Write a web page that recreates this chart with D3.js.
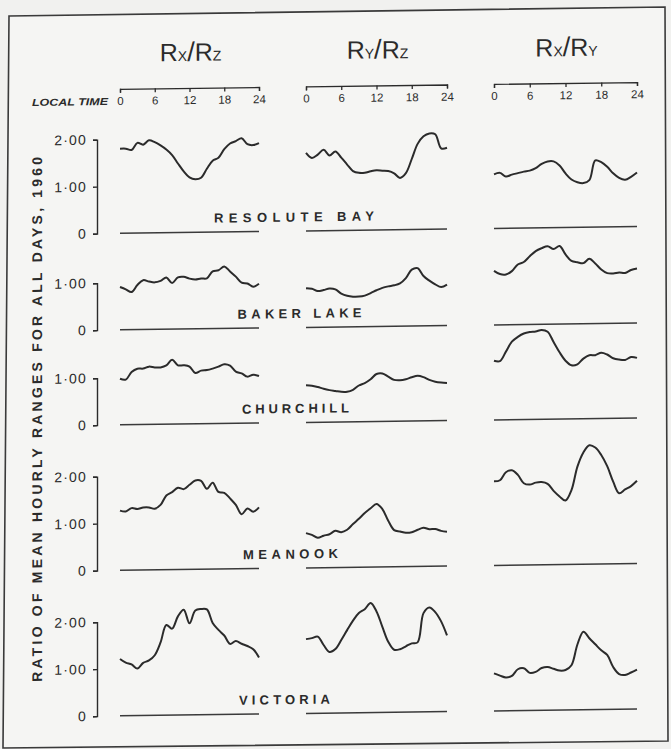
<!DOCTYPE html>
<html>
<head>
<meta charset="utf-8">
<script src="https://cdn.jsdelivr.net/npm/d3@7"></script>
<style>
body { margin: 0; background: #f1f1ef; }
svg { display: block; }
</style>
</head>
<body>
<script>
// hourly ratios, local time 0..24
var hours = d3.range(0, 25);
var timeTicks = [0, 6, 12, 18, 24];
var ratioTitles = [["X", "Z"], ["Y", "Z"], ["X", "Y"]];
var stations = ["RESOLUTE BAY", "BAKER LAKE", "CHURCHILL", "MEANOOK", "VICTORIA"];
var axisMax = [2, 1, 1, 2, 2];

var resoluteRxRz = [1.80,1.80,1.77,1.92,1.88,1.97,1.93,1.86,1.77,1.65,1.47,1.30,1.17,1.13,1.16,1.35,1.52,1.58,1.76,1.88,1.93,1.99,1.86,1.84,1.88];
var resoluteRyRz = [1.66,1.55,1.62,1.72,1.60,1.68,1.55,1.40,1.26,1.22,1.22,1.25,1.27,1.26,1.25,1.20,1.10,1.20,1.50,1.82,1.98,2.04,2.02,1.72,1.73];
var resoluteRxRy = [1.15,1.18,1.10,1.14,1.17,1.20,1.22,1.27,1.36,1.41,1.41,1.32,1.15,1.02,0.96,0.94,1.00,1.42,1.38,1.28,1.14,1.04,1.00,1.06,1.15];

var bakerRxRz = [0.91,0.86,0.80,0.95,1.05,1.02,1.00,1.03,1.10,0.98,1.10,1.11,1.07,1.05,1.07,1.07,1.22,1.24,1.32,1.21,1.10,0.97,0.95,0.88,0.94];
var bakerRyRz = [0.83,0.82,0.77,0.79,0.82,0.80,0.71,0.66,0.64,0.64,0.66,0.71,0.77,0.82,0.85,0.87,0.91,1.02,1.20,1.23,1.06,0.96,0.88,0.82,0.87];
var bakerRxRy = [1.15,1.08,1.07,1.14,1.28,1.33,1.45,1.56,1.62,1.66,1.60,1.66,1.48,1.34,1.31,1.29,1.38,1.28,1.15,1.07,1.06,1.08,1.07,1.13,1.16];

var churchillRxRz = [0.98,0.96,1.12,1.19,1.19,1.23,1.21,1.21,1.25,1.37,1.25,1.25,1.22,1.08,1.13,1.14,1.17,1.21,1.26,1.23,1.10,1.06,0.99,1.03,1.00];
var churchillRyRz = [0.79,0.78,0.75,0.71,0.68,0.66,0.64,0.64,0.68,0.77,0.82,0.90,1.01,1.02,0.95,0.88,0.87,0.89,0.93,0.96,0.93,0.87,0.83,0.81,0.80];
var churchillRxRy = [1.26,1.25,1.45,1.66,1.76,1.83,1.86,1.87,1.90,1.86,1.64,1.42,1.24,1.14,1.16,1.28,1.35,1.35,1.40,1.36,1.28,1.25,1.24,1.30,1.28];

var meanookRxRz = [1.27,1.25,1.32,1.30,1.33,1.33,1.30,1.38,1.58,1.65,1.74,1.71,1.80,1.89,1.88,1.71,1.84,1.64,1.62,1.50,1.36,1.16,1.28,1.21,1.30];
var meanookRyRz = [0.74,0.70,0.64,0.68,0.71,0.78,0.75,0.80,0.92,1.03,1.15,1.25,1.34,1.23,0.98,0.78,0.75,0.72,0.73,0.78,0.82,0.79,0.79,0.75,0.73];
var meanookRxRy = [1.79,1.81,1.98,2.02,1.92,1.74,1.71,1.75,1.76,1.72,1.57,1.45,1.36,1.58,2.08,2.38,2.53,2.48,2.32,2.08,1.75,1.50,1.58,1.65,1.76];

var victoriaRxRz = [1.21,1.13,1.09,1.00,1.12,1.17,1.28,1.55,1.92,1.84,2.10,2.24,1.95,2.22,2.25,2.24,1.95,1.80,1.68,1.50,1.56,1.50,1.45,1.38,1.20];
var victoriaRyRz = [1.58,1.60,1.63,1.45,1.30,1.36,1.55,1.76,1.96,2.12,2.20,2.33,2.15,1.82,1.50,1.33,1.34,1.40,1.46,1.48,2.10,2.22,2.12,1.92,1.62];
var victoriaRxRy = [0.80,0.75,0.71,0.74,0.88,0.90,0.80,0.82,0.90,0.92,0.88,0.84,0.85,0.95,1.39,1.66,1.52,1.39,1.26,1.16,0.90,0.75,0.73,0.78,0.84];

var series = [
    [resoluteRxRz, resoluteRyRz, resoluteRxRy],
    [bakerRxRz, bakerRyRz, bakerRxRy],
    [churchillRxRz, churchillRyRz, churchillRxRy],
    [meanookRxRz, meanookRyRz, meanookRxRy],
    [victoriaRxRz, victoriaRyRz, victoriaRxRy]
];

// layout (pixels)
var width = 671, height = 749,
    colRange = [[120, 259], [306, 447], [494, 637]],
    rowZero = [230.5, 327, 422, 567.5, 713],
    unit = 47,
    timeAxisY = 86,
    yAxisX = 97,
    labelX = [214, 237.5, 242, 243, 239],
    labelW = [160, 124, 107, 95, 91],
    skew = 0.0131,
    ink = "#2b2b2b",
    font = "'Liberation Sans', Arial, sans-serif";

var svg = d3.select("body").append("svg")
    .attr("width", width)
    .attr("height", height);

// paper frame (scan is a bit off square)
svg.append("path")
    .attr("d", "M9,16L665,7L668,741L3,748Z")
    .attr("fill", "#f5f5f3")
    .attr("stroke", "#3a3a3a")
    .attr("stroke-width", 1.6);

var g = svg.append("g")
    .attr("transform", "matrix(1," + (-skew) + ",0,1,0," + (skew * width / 2) + ")");

var xScales = colRange.map(function(r) {
    return d3.scaleLinear().domain([0, 24]).range(r);
});

// column titles R_x / R_z etc.
ratioTitles.forEach(function(t, c) {
    var cx = (colRange[c][0] + colRange[c][1]) / 2 + 1;
    var txt = g.append("text")
        .attr("x", cx)
        .attr("y", 59)
        .attr("text-anchor", "middle")
        .attr("font-family", font)
        .attr("font-size", 25)
        .attr("fill", ink);
    txt.append("tspan").text("R");
    txt.append("tspan").attr("font-size", 14).text(t[0]);
    txt.append("tspan").attr("font-size", 27).text("/");
    txt.append("tspan").text("R");
    txt.append("tspan").attr("font-size", 14).text(t[1]);
});

// local time axes
xScales.forEach(function(x) {
    var ax = g.append("g")
        .attr("transform", "translate(0," + timeAxisY + ")")
        .call(d3.axisBottom(x).tickValues(timeTicks).tickSize(4).tickSizeOuter(4));
    ax.select(".domain").attr("stroke", ink).attr("stroke-width", 1.3);
    ax.selectAll(".tick line").attr("stroke", ink).attr("stroke-width", 1.3);
    ax.selectAll(".tick text")
        .attr("y", 8)
        .attr("fill", ink)
        .attr("font-family", "'Liberation Sans Narrow', " + font)
        .attr("font-size", 11.5);
});

g.append("text")
    .attr("x", 32)
    .attr("y", 102)
    .attr("textLength", 76)
    .attr("lengthAdjust", "spacingAndGlyphs")
    .attr("font-family", font)
    .attr("font-style", "italic")
    .attr("font-weight", "bold")
    .attr("font-size", 10)
    .attr("fill", ink)
    .text("LOCAL TIME");

var line = d3.line().curve(d3.curveCatmullRom.alpha(0.5));

stations.forEach(function(name, r) {
    var y = d3.scaleLinear().domain([0, axisMax[r]])
        .range([rowZero[r], rowZero[r] - unit * axisMax[r]]);

    var ay = g.append("g")
        .attr("transform", "translate(" + yAxisX + ",0)")
        .call(d3.axisLeft(y).tickValues(d3.range(0, axisMax[r] + 1))
            .tickSize(4).tickSizeOuter(4)
            .tickFormat(function(d) { return d === 0 ? "0" : d + "\u00b700"; }));
    ay.select(".domain").attr("stroke", ink).attr("stroke-width", 1.4);
    ay.selectAll(".tick line").attr("stroke", ink).attr("stroke-width", 1.4);
    ay.selectAll(".tick text")
        .attr("x", -10)
        .attr("fill", ink)
        .attr("font-family", font)
        .attr("font-size", 14)
        .attr("letter-spacing", 1.2);

    // zero lines
    g.append("g").selectAll("line")
        .data(xScales)
        .enter()
        .append("line")
        .attr("x1", function(x) { return x(0); })
        .attr("x2", function(x) { return x(24); })
        .attr("y1", y(0))
        .attr("y2", y(0))
        .attr("stroke", "#3a3a3a")
        .attr("stroke-width", 1.5);

    // ratio curves
    g.append("g").selectAll("path")
        .data(series[r])
        .enter()
        .append("path")
        .attr("d", function(vals, c) {
            return line(vals.map(function(v, i) { return [xScales[c](hours[i]), y(v)]; }));
        })
        .attr("fill", "none")
        .attr("stroke", ink)
        .attr("stroke-width", 2)
        .attr("stroke-linejoin", "round");

    g.append("text")
        .attr("x", labelX[r])
        .attr("y", rowZero[r] - 9.5)
        .attr("textLength", labelW[r])
        .attr("lengthAdjust", "spacing")
        .attr("font-family", font)
        .attr("font-weight", "bold")
        .attr("font-size", 13)
        .attr("fill", ink)
        .text(name);
});

g.append("text")
    .attr("transform", "translate(42,415.5) rotate(-90)")
    .attr("text-anchor", "middle")
    .attr("textLength", 525)
    .attr("lengthAdjust", "spacing")
    .attr("font-family", font)
    .attr("font-weight", "bold")
    .attr("font-size", 14)
    .attr("fill", ink)
    .text("RATIO OF MEAN HOURLY RANGES FOR ALL DAYS, 1960");
</script>
</body>
</html>
